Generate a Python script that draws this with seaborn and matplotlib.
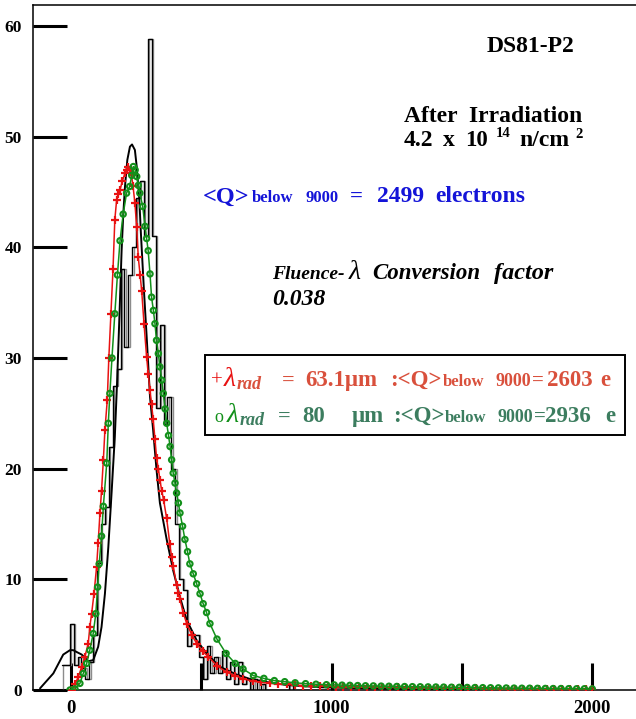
import numpy as np
import pandas as pd
import matplotlib
matplotlib.use("Agg")
import matplotlib.pyplot as plt
import seaborn as sns
from matplotlib.patches import Rectangle

# ---------------- data ----------------
hist_edge0 = -35
hist_width = 15
hist_vals = [2.3, 2.3, 6.0, 2.3, 3.0, 2.0, 1.0, 2.5, 5.0, 11.5,
             15.0, 16.5, 22.0, 27.5, 29.0, 38.0, 31.0, 37.5, 40.0, 44.5,
             46.0, 41.0, 58.8, 41.0, 25.5, 33.0, 24.0, 26.5, 20.0, 15.0,
             10.0, 9.0, 4.0, 5.0, 5.0, 3.0, 1.0, 4.0, 1.5, 3.0,
             1.5, 3.5, 1.0, 2.5, 0.5, 2.5, 0.5, 1.0, 0.0, 1.0,
             0.0, 0.5, 0.0, 0.0, 0.0, 0.0, 0.0, 0.0, 0.5, 0.0,
             0.0, 0.0, 0.0, 0.0, 0.0, 0.0, 0.0, 0.0, 0.0]

fit_x = [-119, -68, -30, -4, 8, 41, 66, 85, 104, 117, 130, 143, 156, 168,
         177, 186, 194, 200, 207, 216, 226, 234, 245, 252, 262, 268, 280,
         290, 303, 315, 328, 341, 367, 392, 418, 444, 482, 520, 571, 635,
         699, 827, 955, 1200, 1500, 2000]
fit_y = [0.15, 1.5, 3.2, 3.6, 3.6, 3.2, 2.6, 2.7, 3.9, 5.7, 8.7, 12.9, 18.0,
         22.9, 28.0, 34.0, 39.7, 42.8, 45.5, 47.9, 49.1, 49.3, 48.8, 47.3,
         44.3, 41.3, 36.0, 32.0, 26.5, 23.5, 19.9, 16.9, 13.6, 10.8, 8.4,
         6.3, 4.5, 3.3, 2.1, 1.4, 0.9, 0.45, 0.25, 0.12, 0.07, 0.03]

red_x = [2, 15, 28, 41, 53, 66, 72, 79, 88, 98, 104, 111, 117, 124, 130,
         139, 145, 153, 161, 168, 175, 182, 188, 197, 207, 214, 220, 226,
         232, 238, 245, 252, 258, 265, 271, 280, 290, 296, 303, 309, 315,
         322, 328, 335, 341, 348, 355, 367, 379, 386, 392, 405, 411, 418,
         430, 444, 463, 482, 505, 527, 560, 597, 630, 661, 699, 730, 763,
         795, 827, 860, 890, 920, 955, 985, 1015, 1045, 1075, 1105, 1135,
         1165, 1195, 1225, 1255, 1285, 1315, 1345, 1375, 1405, 1435, 1465,
         1495, 1525, 1555, 1585, 1615, 1645, 1675, 1705, 1735, 1765, 1795,
         1825, 1855, 1885, 1915, 1945, 1975, 2000]
red_y = [0.0, 0.5, 1.2, 2.1, 3.0, 4.2, 5.7, 6.9, 8.7, 11.1, 13.3, 16.0,
         18.0, 20.8, 23.5, 26.2, 30.0, 34.0, 38.0, 42.5, 44.3, 44.8, 45.2,
         46.0, 46.7, 47.0, 47.3, 47.0, 46.5, 45.5, 44.0, 41.8, 39.1, 37.5,
         36.1, 33.1, 30.1, 28.6, 27.1, 25.8, 24.5, 22.7, 21.0, 20.0, 19.0,
         18.0, 17.2, 15.5, 13.2, 12.0, 11.2, 9.5, 8.8, 8.2, 7.0, 6.0, 5.0,
         4.2, 3.5, 3.0, 2.2, 1.6, 1.3, 1.0, 0.8, 0.7, 0.6, 0.55, 0.5, 0.45,
         0.4, 0.38, 0.35, 0.33, 0.31, 0.3, 0.29, 0.28, 0.27, 0.26, 0.25,
         0.24, 0.23, 0.22, 0.21, 0.2, 0.19, 0.18, 0.17, 0.16, 0.16, 0.15,
         0.14, 0.13, 0.13, 0.12, 0.12, 0.11, 0.11, 0.1, 0.1, 0.09, 0.09,
         0.08, 0.08, 0.08, 0.07, 0.07]

green_x = [-4, 15, 34, 47, 60, 72, 85, 95, 102, 108, 117, 124, 137, 143,
           149, 157, 168, 178, 188, 200, 213, 225, 233, 239, 246, 252, 258,
           264, 275, 284, 290, 296, 303, 309, 316, 322, 328, 335, 341, 348,
           354, 361, 367, 374, 380, 386, 392, 399, 405, 412, 418, 428, 437,
           447, 456, 469, 482, 495, 507, 520, 533, 560, 595, 630, 660, 700,
           740, 780, 820, 860, 900, 940, 980, 1010, 1040, 1070, 1100, 1130,
           1160, 1190, 1220, 1250, 1280, 1310, 1340, 1370, 1400, 1430, 1460,
           1490, 1520, 1550, 1580, 1610, 1640, 1670, 1700, 1730, 1760, 1790,
           1820, 1850, 1880, 1910, 1940, 1970, 2000]
green_y = [0.0, 0.1, 0.6, 1.5, 2.4, 3.6, 5.1, 6.9, 9.3, 11.4, 13.9, 16.6,
           20.5, 24.1, 26.8, 30.0, 34.0, 37.5, 40.6, 43.0, 44.9, 45.5, 46.5,
           47.3, 47.0, 46.4, 45.6, 44.9, 43.7, 41.9, 40.8, 39.7, 37.6, 35.5,
           34.3, 33.1, 31.6, 30.4, 29.2, 28.0, 26.8, 25.4, 24.1, 23.0, 22.0,
           20.8, 19.6, 18.7, 17.8, 16.9, 16.0, 14.8, 13.6, 12.5, 11.4, 10.5,
           9.6, 8.7, 7.8, 7.0, 6.0, 4.6, 3.3, 2.4, 1.9, 1.3, 1.05, 0.85, 0.75,
           0.65, 0.57, 0.52, 0.48, 0.46, 0.44, 0.42, 0.4, 0.38, 0.37, 0.35,
           0.34, 0.32, 0.31, 0.3, 0.29, 0.28, 0.27, 0.26, 0.25, 0.24, 0.23,
           0.22, 0.21, 0.2, 0.19, 0.18, 0.17, 0.16, 0.16, 0.15, 0.14, 0.13,
           0.13, 0.12, 0.11, 0.11, 0.1]

x_ticks = [0, 500, 1000, 1500, 2000]
x_ticklabels = ["0", "", "1000", "", "2000"]
y_ticks = [0, 10, 20, 30, 40, 50, 60]
y_ticklabels = ["0", "10", "20", "30", "40", "50", "60"]

# ---------------- style ----------------
sns.set_theme(style="white")
plt.rcParams["font.family"] = ["Liberation Serif", "DejaVu Serif"]
plt.rcParams["mathtext.fontset"] = "stix"

W, H = 636, 719
fig = plt.figure(figsize=(W / 100, H / 100), dpi=100)
fig.patch.set_facecolor("white")
ax = fig.add_axes([33 / W, 29 / H, (W - 33) / W, 685 / H])
ax.set_facecolor("white")

RED = "#e81212"
GREEN = "#12901a"

# histogram
edges = [hist_edge0 + hist_width * i for i in range(len(hist_vals) + 1)]
centers = [(edges[i] + edges[i + 1]) / 2 for i in range(len(hist_vals))]
hdf = pd.DataFrame({"x": centers, "w": hist_vals})
ax.stairs(hist_vals, edges, color="0.55", linewidth=1.0,
          transform=matplotlib.transforms.offset_copy(ax.transData, fig=fig, x=1.3, y=0, units="dots"))
sns.histplot(data=hdf, x="x", weights="w", bins=edges, element="step",
             fill=False, color="black", linewidth=1.0, ax=ax)

# fit curve
sns.lineplot(x=fit_x, y=fit_y, color="black", linewidth=1.4, ax=ax)

# simulated points (thin trace underneath for the dense look)
sns.lineplot(x=red_x, y=red_y, color=RED, linewidth=1.1, ax=ax, zorder=3)
sns.scatterplot(x=red_x, y=red_y, marker="+", color=RED, s=26,
                linewidth=1.6, ax=ax, zorder=3)
sns.lineplot(x=green_x, y=green_y, color=GREEN, linewidth=1.1, ax=ax,
             zorder=4)
sns.scatterplot(x=green_x, y=green_y, marker="o", s=15, color=GREEN,
                facecolor="none", edgecolor=GREEN, linewidth=1.5, ax=ax,
                zorder=4)

ax.set_xlim(-146, 2168)
ax.set_ylim(0, 61.9)
ax.set_xlabel("")
ax.set_ylabel("")
ax.set_xticks(x_ticks)
ax.set_xticklabels(x_ticklabels, fontweight="bold")
ax.set_yticks(y_ticks)
ax.set_yticklabels(y_ticklabels, fontweight="bold")
ax.tick_params(axis="x", direction="in", length=19.5, width=2.2, pad=7,
               labelsize=13.5, colors="black", bottom=True)
ax.tick_params(axis="y", direction="in", length=24.5, width=2.2, pad=8,
               labelsize=12.5, colors="black", left=True)
for side in ["left", "bottom", "top"]:
    ax.spines[side].set_visible(True)
    ax.spines[side].set_color("black")
    ax.spines[side].set_linewidth(1.1)
ax.spines["right"].set_visible(False)


def txt(px, py, s, size, color="black", style="normal", weight="bold"):
    fig.text(px / W, 1 - py / H, s, fontsize=size, color=color,
             fontstyle=style, fontweight=weight, ha="left", va="baseline",
             zorder=10)


# header texts
txt(487, 52, "DS81-P2", 17)
txt(404, 121.5, "After  Irradiation", 17)
txt(404, 146, "4.2", 17)
txt(443, 146, "x", 17)
txt(465, 146, "10", 16.5)
txt(496, 137, "14", 10.5)
txt(519, 146, "n/cm", 17)
txt(575, 138, "2", 10.5)

BLUE = "#1414d8"
txt(203, 202.5, "<Q>", 17.5, BLUE)
txt(252, 202.5, "below", 12, BLUE)
txt(306, 202.5, "9000", 12, BLUE)
txt(350, 202.5, "=", 16.5, BLUE)
txt(377, 202.5, "2499", 17, BLUE)
txt(435, 202.5, "electrons", 17, BLUE)

txt(272, 278.5, "Fluence-", 14, style="italic")
txt(349, 278.5, "λ", 20, style="italic", weight="normal")
txt(372, 278.5, "Conversion", 16.5, style="italic")
txt(494, 278.5, "factor", 17.5, style="italic")
txt(272, 305, "0.038", 17, style="italic")

# legend box
fig.add_artist(Rectangle((205 / W, 1 - 435 / H), 420 / W, 80 / H,
                         transform=fig.transFigure, facecolor="white",
                         edgecolor="black", linewidth=1.4, zorder=9))
SAL = "#d9503c"
TEAL = "#3c7d5f"
b1 = 386
txt(211, b1, "+", 15, RED, weight="normal")
txt(224, b1, "λ", 20, RED, style="italic", weight="normal")
txt(237, b1 + 3, "rad", 13, SAL, style="italic")
txt(282, b1, "=", 16, SAL)
txt(305, b1, "63.1μm", 16.5, SAL)
txt(390, b1, ":<Q>", 16.5, SAL)
txt(443, b1, "below", 12, SAL)
txt(495, b1, "9000", 13, SAL)
txt(532, b1, "=", 15, SAL)
txt(547, b1, "2603", 16.5, SAL)
txt(600, b1, "e", 16.5, SAL)

b2 = 422
txt(214, b2, "o", 13, GREEN, weight="normal")
txt(227, b2, "λ", 20, GREEN, style="italic", weight="normal")
txt(240, b2 + 3, "rad", 13, TEAL, style="italic")
txt(278, b2, "=", 16, TEAL)
txt(302, b2, "80", 16.5, TEAL)
txt(352, b2, "μm", 16.5, TEAL)
txt(393, b2, ":<Q>", 16.5, TEAL)
txt(445, b2, "below", 12, TEAL)
txt(497, b2, "9000", 13, TEAL)
txt(534, b2, "=", 15, TEAL)
txt(545, b2, "2936", 16.5, TEAL)
txt(605, b2, "e", 16.5, TEAL)

fig.savefig("out.png", dpi=100, facecolor="white")
